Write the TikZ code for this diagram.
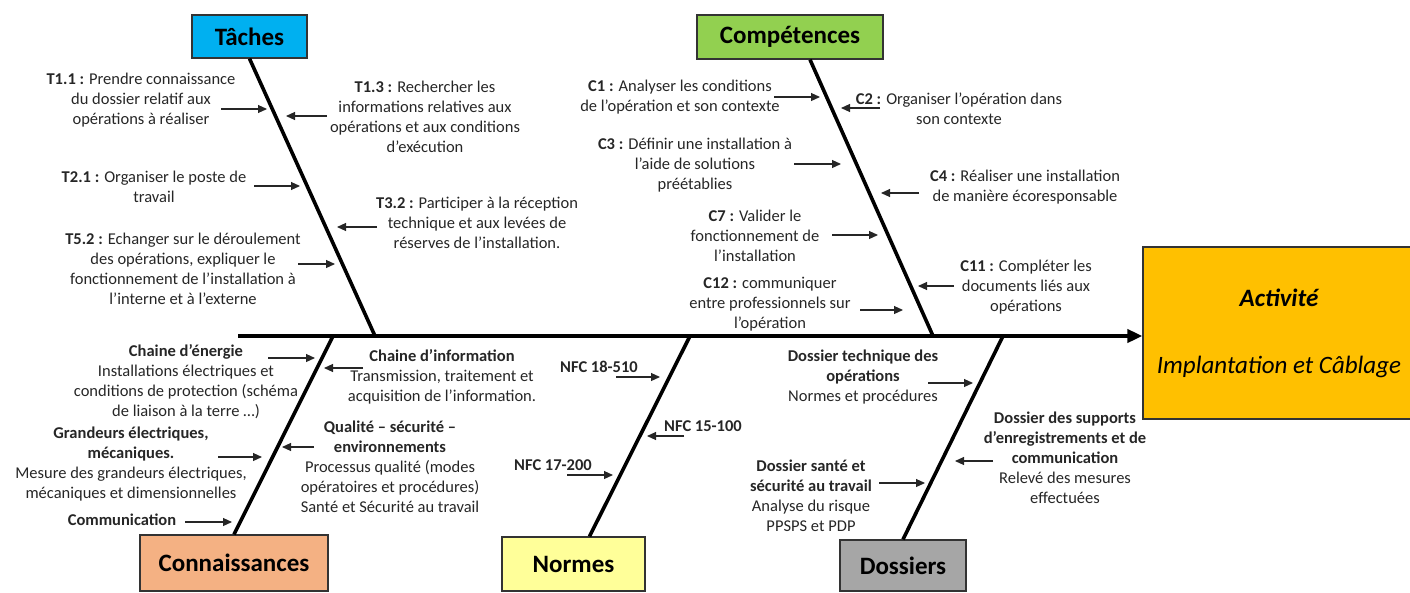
\documentclass[tikz,border=0pt]{standalone}
\usepackage{fontspec}
\setmainfont{Carlito}
\usetikzlibrary{arrows.meta}

\definecolor{cTache}{HTML}{00B0F0}
\definecolor{cComp}{HTML}{92D050}
\definecolor{cConn}{HTML}{F4B183}
\definecolor{cNorm}{HTML}{FFFF99}
\definecolor{cDoss}{HTML}{A6A6A6}
\definecolor{cActi}{HTML}{FFC000}

\begin{document}
\begin{tikzpicture}[x=1pt, y=-1pt,
    cat/.style = {draw=black!80, line width=1.2pt, inner sep=0pt, font=\fontsize{25}{30}\selectfont\bfseries},
    lbl/.style = {align=center, inner sep=0pt, text=black!85, font=\fontsize{16.5}{20}\selectfont},
    bone/.style = {line width=3.6pt},
    tip/.style = {-{Triangle[length=9pt,width=8pt]}, line width=1.1pt, black!85}]
        \useasboundingbox (0,0) rectangle (1410,592);
        \clip (0,0) rectangle (1410,592);
        % categories
        \node[cat, fill=cTache, minimum width=115pt, minimum height=43pt] at (249.5,36.5) (tache) {Tâches};
        \node[cat, fill=cComp, minimum width=186pt, minimum height=44pt] at (790,37) (comp) {Compétences};
        \node[cat, fill=cConn, minimum width=188pt, minimum height=56pt] at (234,563) (conn) {Connaissances};
        \node[cat, fill=cNorm, minimum width=143pt, minimum height=54pt] at (573.5,564) (norm) {Normes};
        \node[cat, fill=cDoss, minimum width=126pt, minimum height=51pt] at (903,565.5) (doss) {Dossiers};
        \node[cat, fill=cActi, minimum width=272pt, minimum height=172pt, align=center,
              font=\fontsize{25}{30}\selectfont\itshape] at (1279,333) (acti) {\textbf{Activité}\\[37pt]Implantation et Câblage};
        % spine
        \coordinate (tail) at (238,336);
        \coordinate (jT) at (375,336);
        \coordinate (jC) at (933,336);
        \coordinate (jK) at (333,336);
        \coordinate (jN) at (690,336);
        \coordinate (jD) at (1003,336);
        \draw[line width=4.5pt, -{Triangle[length=15pt,width=13pt]}] (tail) -- (acti.west |- tail);
        \draw[bone] (tache.south) -- (jT);
        \draw[bone] ([xshift=20pt]comp.south) -- (jC);
        \draw[bone] (conn.north) -- (jK);
        \draw[bone] ([xshift=16pt]norm.north) -- (jN);
        \draw[bone] (doss.north) -- (jD);
        % taches
        \node[lbl] at (141,100) (t11) {\textbf{T1.1 :} Prendre connaissance\\du dossier relatif aux\\opérations à réaliser};
        \node[lbl] at (154,187) (t21) {\textbf{T2.1 :} Organiser le poste de\\travail};
        \node[lbl] at (183,269) (t52) {\textbf{T5.2 :} Echanger sur le déroulement\\des opérations, expliquer le\\fonctionnement de l’installation à\\l’interne et à l’externe};
        \node[lbl] at (425,117) (t13) {\textbf{T1.3 :} Rechercher les\\informations relatives aux\\opérations et aux conditions\\d’exécution};
        \node[lbl] at (477,223) (t32) {\textbf{T3.2 :} Participer à la réception\\technique et aux levées de\\réserves de l’installation.};
        % competences
        \node[lbl] at (680,97) (c1) {\textbf{C1 :} Analyser les conditions\\de l’opération et son contexte};
        \node[lbl] at (695,165) (c3) {\textbf{C3 :} Définir une installation à\\l’aide de solutions\\préétablies};
        \node[lbl] at (755,236) (c7) {\textbf{C7 :} Valider le\\fonctionnement de\\l’installation};
        \node[lbl] at (770,304) (c12) {\textbf{C12 :} communiquer\\entre professionnels sur\\l’opération};
        \node[lbl] at (959,109) (c2) {\textbf{C2 :} Organiser l’opération dans\\son contexte};
        \node[lbl] at (1025,187) (c4) {\textbf{C4 :} Réaliser une installation\\de manière écoresponsable};
        \node[lbl] at (1026,287) (c11) {\textbf{C11 :} Compléter les\\documents liés aux\\opérations};
        % connaissances
        \node[lbl] at (186,381.5) (k1) {\textbf{Chaine d’énergie}\\Installations électriques et\\conditions de protection (schéma\\de liaison à la terre …)};
        \node[lbl] at (131,464) (k2) {\textbf{Grandeurs électriques,}\\\textbf{mécaniques.}\\Mesure des grandeurs électriques,\\mécaniques et dimensionnelles};
        \node[lbl] at (122,520) (k3) {\textbf{Communication}};
        \node[lbl] at (442,377) (k4) {\textbf{Chaine d’information}\\Transmission, traitement et\\acquisition de l’information.};
        \node[lbl] at (390,467) (k5) {\textbf{Qualité – sécurité –}\\\textbf{environnements}\\Processus qualité (modes\\opératoires et procédures)\\Santé et Sécurité au travail};
        % normes
        \node[lbl] at (599,367) (n1) {\textbf{NFC 18-510}};
        \node[lbl] at (703,426) (n2) {\textbf{NFC 15-100}};
        \node[lbl] at (553,465) (n3) {\textbf{NFC 17-200}};
        % dossiers
        \node[lbl] at (863,377) (d1) {\textbf{Dossier technique des}\\\textbf{opérations}\\Normes et procédures};
        \node[lbl] at (811,495.5) (d2) {\textbf{Dossier santé et}\\\textbf{sécurité au travail}\\Analyse du risque\\PPSPS et PDP};
        \node[lbl] at (1065,458) (d3) {\textbf{Dossier des supports}\\\textbf{d’enregistrements et de}\\\textbf{communication}\\Relevé des mesures\\effectuées};
        % small arrows to the bones
        \foreach \n/\xa/\xb/\y in {t11/221/267/109, t13/327/286/116, t21/254/300/186, t32/377/337/227, t52/298/335/264,
                                  c1/774/820/97, c2/880/841/108, c3/794/841/164, c4/919/881/193, c7/832/878/235,
                                  c11/954/918/286, c12/860/903/310,
                                  k1/268/315/358, k4/363/324/368, k2/218/262/457, k5/314/282/447, k3/185/232/522,
                                  n1/616/660/377, n2/684/647/436, n3/567/613/475,
                                  d1/928/973/383, d2/879/925/483, d3/993/955/461} {
            \coordinate (\n a) at (\xa,\y);
            \coordinate (\n b) at (\xb,\y);
            \draw[tip] (\n a) -- (\n b);
        }
\end{tikzpicture}
\end{document}
